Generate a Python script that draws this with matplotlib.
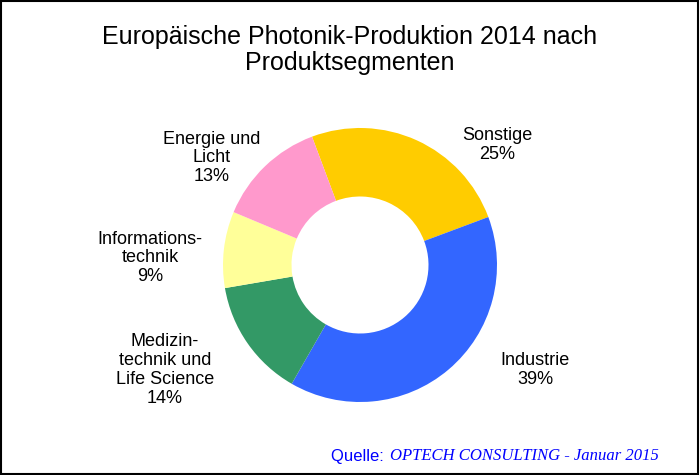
import matplotlib
matplotlib.use("Agg")
import matplotlib.pyplot as plt
from matplotlib.patches import Rectangle

segments = ["Sonstige", "Industrie", "Medizin-\ntechnik und\nLife Science", "Informations-\ntechnik", "Energie und\nLicht"]
shares = [25, 39, 14, 9, 13]
colors = ["#FFCC00", "#3366FF", "#339966", "#FFFF99", "#FF99CC"]
label_pos = [(497, 145), (535, 370), (165, 370), (150, 258), (212, 158)]

W, H = 700, 475
fig = plt.figure(figsize=(7, 4.75), dpi=100)
fig.patches.append(Rectangle((0.002, 0.003), 0.995, 0.994, transform=fig.transFigure,
                             fill=False, edgecolor="black", linewidth=1.5))
font = "Liberation Sans"
cx, cy, r = 360, 265, 137
ax = fig.add_axes([(cx - r) / W, 1 - (cy + r) / H, 2 * r / W, 2 * r / H])
ax.pie(shares, colors=colors, startangle=110.5, counterclock=False, radius=1,
       wedgeprops=dict(width=0.5, edgecolor="none"))
ax.set_xlim(-1, 1); ax.set_ylim(-1, 1); ax.set_aspect("auto"); ax.axis("off")

fig.text(0.5, 1 - 50 / H, "Europäische Photonik-Produktion 2014 nach\nProduktsegmenten",
         ha="center", va="center", fontsize=18, family=font, linespacing=1.1)
for name, v, (x, y) in zip(segments, shares, label_pos):
    fig.text(x / W, 1 - y / H, f"{name}\n{v}%", ha="center", va="center",
             fontsize=13, family=font, linespacing=1.15)
fig.text(388 / W, 1 - 456 / H, "Quelle: ", ha="right", va="center", color="#0000FF",
         fontsize=12, family=font)
fig.text(390 / W, 1 - 456 / H, "OPTECH CONSULTING - Januar 2015", ha="left", va="center",
         color="#0000FF", fontsize=12, family="Liberation Serif", style="italic")
fig.savefig("out.png", dpi=100)
